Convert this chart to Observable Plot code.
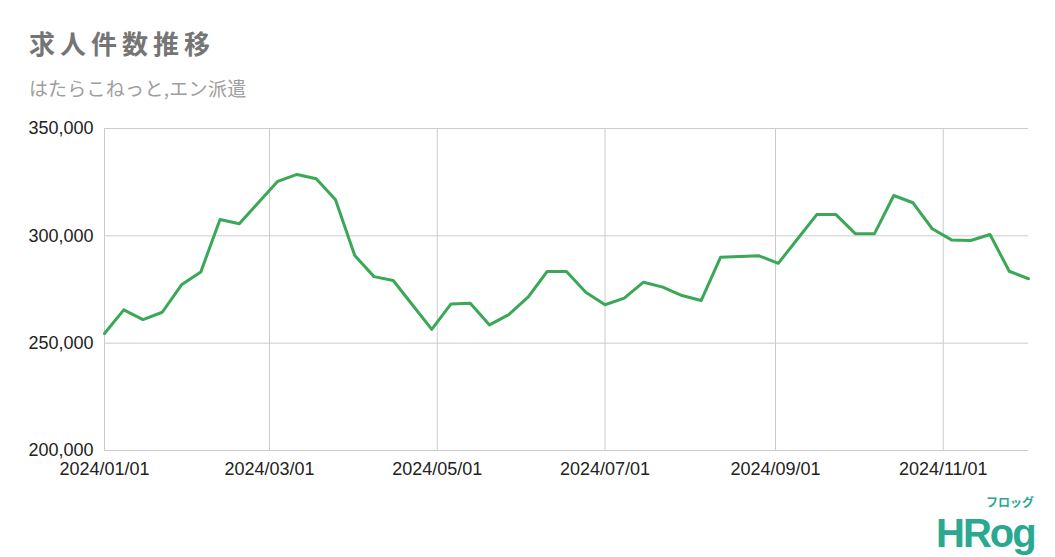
<!DOCTYPE html>
<html>
<head>
<meta charset="utf-8">
<script src="https://cdn.jsdelivr.net/npm/d3@7"></script>
<script src="https://cdn.jsdelivr.net/npm/@observablehq/plot@0.6"></script>
<style>
  html, body { margin: 0; padding: 0; background: #fff; }
  #wrap { position: relative; width: 1055px; height: 557px; overflow: hidden; font-family: "Noto Sans CJK JP", "Liberation Sans", sans-serif; }
  #title { position: absolute; left: 29px; top: 30px; font-size: 26px; font-weight: bold; letter-spacing: 5px; color: #757575; line-height: 1; }
  #subtitle { position: absolute; left: 29px; top: 78px; font-size: 19px; color: #9e9e9e; line-height: 1; letter-spacing: 0.3px; }
  #chart { position: absolute; left: 0; top: 110px; }
  #logo { position: absolute; left: 936px; top: 500px; width: 115px; height: 57px; color: #2aa890; }
  #logo .main { position: absolute; left: 0; top: 13px; font-family: "Liberation Sans", sans-serif; font-weight: bold; font-size: 40px; letter-spacing: -2px; line-height: 1; }
  #logo .kana { position: absolute; left: 50px; top: -4px; font-size: 12px; font-weight: bold; line-height: 1; }
</style>
</head>
<body>
<div id="wrap">
  <div id="title">求人件数推移</div>
  <div id="subtitle">はたらこねっと,エン派遣</div>
  <div id="chart"></div>
  <div id="logo"><span class="main">HRog</span><span class="kana">フロッグ</span></div>
</div>
<script>
const weekDates = [
  "2024-01-01","2024-01-08","2024-01-15","2024-01-22","2024-01-29",
  "2024-02-05","2024-02-12","2024-02-19","2024-02-26",
  "2024-03-04","2024-03-11","2024-03-18","2024-03-25",
  "2024-04-01","2024-04-08","2024-04-15","2024-04-22","2024-04-29",
  "2024-05-06","2024-05-13","2024-05-20","2024-05-27",
  "2024-06-03","2024-06-10","2024-06-17","2024-06-24",
  "2024-07-01","2024-07-08","2024-07-15","2024-07-22","2024-07-29",
  "2024-08-05","2024-08-12","2024-08-19","2024-08-26",
  "2024-09-02","2024-09-09","2024-09-16","2024-09-23","2024-09-30",
  "2024-10-07","2024-10-14","2024-10-21","2024-10-28",
  "2024-11-04","2024-11-11","2024-11-18","2024-11-25",
  "2024-12-02"
];
const jobCounts = [
  254500, 265500, 261000, 264400, 277200,
  283100, 307600, 305600, 315500,
  325400, 328600, 326600, 316800,
  290800, 281000, 279200, 267800, 256400,
  268300, 268600, 258500, 263300,
  271400, 283400, 283400, 273700,
  267900, 271000, 278400, 276100, 272200,
  269900, 290000, 290400, 290700,
  287200, 298500, 309900, 309900, 301000,
  301000, 318800, 315400, 303300,
  298100, 297800, 300600, 283500,
  280000
];
const xTickDates = ["2024-01-01","2024-03-01","2024-05-01","2024-07-01","2024-09-01","2024-11-01"];
const yTicks = [200000, 250000, 300000, 350000];
const xDomain = ["2024-01-01", "2024-12-02"];
const yDomain = [200000, 350000];

const parse = d3.utcParse("%Y-%m-%d");
const data = weekDates.map((d, i) => ({date: parse(d), value: jobCounts[i]}));
const xt = xTickDates.map(parse);

const chart = Plot.plot({
  width: 1055,
  height: 447,
  marginTop: 18,
  marginBottom: 107,
  marginLeft: 104,
  marginRight: 27,
  style: {fontFamily: "'Liberation Sans', Arial, sans-serif", fontSize: "18px", color: "#222", background: "#fff"},
  x: {type: "utc", domain: xDomain.map(parse)},
  y: {domain: yDomain},
  marks: [
    Plot.gridX(xt, {stroke: "#cccccc", strokeOpacity: 1, strokeWidth: 1}),
    Plot.gridY(yTicks, {stroke: "#cccccc", strokeOpacity: 1, strokeWidth: 1}),
    Plot.axisY(yTicks, {tickSize: 0, tickPadding: 11, tickFormat: d3.format(","), label: null, fill: "#222", fontSize: 18}),
    Plot.axisX(xt, {tickSize: 0, tickPadding: 12, tickFormat: d3.utcFormat("%Y/%m/%d"), label: null, fill: "#222", fontSize: 18}),
    Plot.line(data, {x: "date", y: "value", stroke: "#3aa857", strokeWidth: 3, strokeLinejoin: "round", strokeLinecap: "round"})
  ]
});
document.getElementById("chart").appendChild(chart);
</script>
</body>
</html>
